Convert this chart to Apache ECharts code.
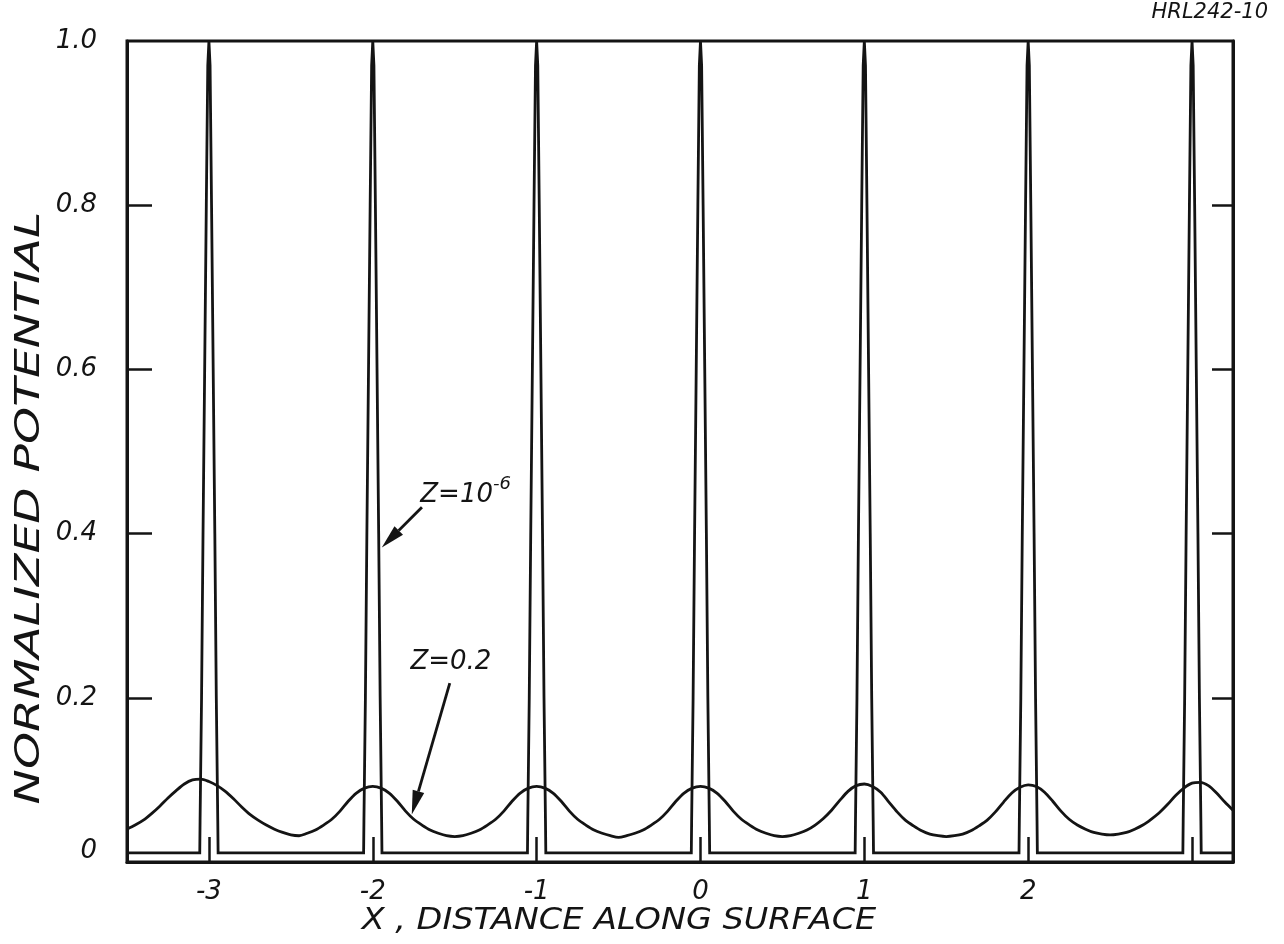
<!DOCTYPE html>
<html>
<head>
<meta charset="utf-8">
<script src="https://cdn.jsdelivr.net/npm/echarts@6/dist/echarts.min.js"></script>
<style>
  html, body { margin: 0; padding: 0; background: #ffffff; }
  #chart { width: 1284px; height: 944px; }
</style>
</head>
<body>
<div id="chart"></div>
<script>
// Normalized surface potential along a periodic electrode array, for two heights Z.

// Axis ticks and labels
const xTicks = [-3, -2, -1, 0, 1, 2, 3];
const xTickLabels = [-3, -2, -1, 0, 1, 2];
const yTicks = [0.2, 0.4, 0.6, 0.8];
const yTickLabels = [0, 0.2, 0.4, 0.6, 0.8, 1.0];
const xMin = -3.5;
const xMax = 3.25;

// Z = 1e-6: a sharp peak over every electrode, almost zero in between
const spikeCentres = [-3, -2, -1, 0, 1, 2, 3];
const spikeOffsets = [-0.056, -0.054, -0.045, -0.036, -0.026, -0.016, -0.007, 0, 0.007, 0.016, 0.026, 0.036, 0.045, 0.054, 0.056];
const spikeLevels  = [0.011, 0.05, 0.2, 0.4, 0.6, 0.8, 0.97, 1.0, 0.97, 0.8, 0.6, 0.4, 0.2, 0.05, 0.011];
const spikeBase = 0.011;

// Z = 0.2: smooth ripple
const rippleX = [
  -3.5, -3.45, -3.4, -3.35, -3.3, -3.25, -3.2, -3.15, -3.1, -3.05,
  -3.0, -2.95, -2.9, -2.85, -2.8, -2.75, -2.7, -2.65, -2.6, -2.55,
  -2.5, -2.45, -2.4, -2.35, -2.3, -2.25, -2.2, -2.15, -2.1, -2.05,
  -2.0, -1.95, -1.9, -1.85, -1.8, -1.75, -1.7, -1.65, -1.6, -1.55,
  -1.5, -1.45, -1.4, -1.35, -1.3, -1.25, -1.2, -1.15, -1.1, -1.05,
  -1.0, -0.95, -0.9, -0.85, -0.8, -0.75, -0.7, -0.65, -0.6, -0.55,
  -0.5, -0.45, -0.4, -0.35, -0.3, -0.25, -0.2, -0.15, -0.1, -0.05,
  0.0, 0.05, 0.1, 0.15, 0.2, 0.25, 0.3, 0.35, 0.4, 0.45,
  0.5, 0.55, 0.6, 0.65, 0.7, 0.75, 0.8, 0.85, 0.9, 0.95,
  1.0, 1.05, 1.1, 1.15, 1.2, 1.25, 1.3, 1.35, 1.4, 1.45,
  1.5, 1.55, 1.6, 1.65, 1.7, 1.75, 1.8, 1.85, 1.9, 1.95,
  2.0, 2.05, 2.1, 2.15, 2.2, 2.25, 2.3, 2.35, 2.4, 2.45,
  2.5, 2.55, 2.6, 2.65, 2.7, 2.75, 2.8, 2.85, 2.9, 2.95,
  3.0, 3.05, 3.1, 3.15, 3.2, 3.25
];
const rippleY = [
  0.040, 0.045, 0.051, 0.059, 0.068, 0.078, 0.087, 0.095, 0.100, 0.101,
  0.098, 0.093, 0.086, 0.077, 0.067, 0.058, 0.051, 0.045, 0.040, 0.036,
  0.033, 0.032, 0.035, 0.039, 0.045, 0.052, 0.062, 0.074, 0.084, 0.090,
  0.092, 0.090, 0.084, 0.074, 0.062, 0.052, 0.045, 0.039, 0.035, 0.032,
  0.031, 0.032, 0.035, 0.039, 0.045, 0.052, 0.062, 0.074, 0.084, 0.090,
  0.092, 0.090, 0.084, 0.074, 0.062, 0.052, 0.045, 0.039, 0.035, 0.032,
  0.030, 0.032, 0.035, 0.039, 0.045, 0.052, 0.062, 0.074, 0.084, 0.090,
  0.092, 0.090, 0.084, 0.074, 0.062, 0.052, 0.045, 0.039, 0.035, 0.032,
  0.031, 0.032, 0.035, 0.039, 0.045, 0.053, 0.063, 0.075, 0.086, 0.093,
  0.095, 0.092, 0.085, 0.073, 0.061, 0.051, 0.044, 0.038, 0.034, 0.032,
  0.031, 0.032, 0.034, 0.038, 0.044, 0.051, 0.061, 0.073, 0.084, 0.091,
  0.094, 0.092, 0.085, 0.074, 0.062, 0.052, 0.045, 0.040, 0.036, 0.034,
  0.033, 0.034, 0.036, 0.040, 0.045, 0.052, 0.060, 0.070, 0.081, 0.090,
  0.096, 0.097, 0.093, 0.084, 0.073, 0.063
];

// Curve labels (data coordinates of text anchor, arrow tail and arrow tip)
const notes = [
  { text: '{m|Z=10}{s|-6}', at: [-1.71, 0.447], tail: [-1.70, 0.432], tip: [-1.945, 0.383] },
  { text: '{m|Z=0.2}', at: [-1.77, 0.243], tail: [-1.53, 0.218], tip: [-1.762, 0.058] }
];

const INK = '#141414';
const FONT = 'DejaVu Sans';

const spikeData = [[xMin, spikeBase]];
spikeCentres.forEach(function (c) {
  spikeOffsets.forEach(function (o, i) { spikeData.push([c + o, spikeLevels[i]]); });
});
spikeData.push([xMax, spikeBase]);

const rippleData = rippleX.map(function (x, i) { return [x, rippleY[i]]; });

const chart = echarts.init(document.getElementById('chart'), null, { renderer: 'canvas' });

const labelStyle = { color: INK, fontFamily: FONT, fontStyle: 'italic', fontSize: 26 };

chart.setOption({
  backgroundColor: '#ffffff',
  animation: false,
  grid: {
    left: 127, right: 51, top: 41, bottom: 82,
    outerBoundsMode: 'none',
    show: true, borderColor: INK, borderWidth: 3, backgroundColor: 'transparent'
  },
  xAxis: {
    type: 'value', min: xMin, max: xMax,
    axisLine: { show: true, onZero: false, lineStyle: { color: INK, width: 3 } },
    splitLine: { show: false },
    axisTick: { show: true, inside: true, length: 25, customValues: xTicks, lineStyle: { color: INK, width: 2.5 } },
    axisLabel: Object.assign({ customValues: xTickLabels, margin: 17, formatter: function (v) { return String(v); } }, labelStyle)
  },
  yAxis: [
    {
      type: 'value', min: 0, max: 1, position: 'left',
      axisLine: { show: true, onZero: false, lineStyle: { color: INK, width: 3 } },
      splitLine: { show: false },
      axisTick: { show: true, inside: true, length: 25, customValues: yTicks, lineStyle: { color: INK, width: 2.5 } },
      axisLabel: Object.assign({
        customValues: yTickLabels, margin: 30,
        formatter: function (v) { return v === 0 ? '{z|0}' : v.toFixed(1); },
        rich: { z: { color: INK, fontFamily: FONT, fontStyle: 'italic', fontSize: 26, padding: [0, 0, 22, 0] } }
      }, labelStyle)
    },
    {
      type: 'value', min: 0, max: 1, position: 'right',
      axisLine: { show: true, onZero: false, lineStyle: { color: INK, width: 3 } },
      splitLine: { show: false },
      axisTick: { show: true, inside: true, length: 21, customValues: yTicks, lineStyle: { color: INK, width: 2.5 } },
      axisLabel: { show: false }
    }
  ],
  series: [
    {
      name: 'Z=1e-6', type: 'line', data: spikeData, yAxisIndex: 0,
      symbol: 'none', smooth: false,
      lineStyle: { color: INK, width: 2.8, join: 'miter' }
    },
    {
      name: 'Z=0.2', type: 'line', data: rippleData, yAxisIndex: 0,
      symbol: 'none', smooth: 0.3,
      lineStyle: { color: INK, width: 2.8 }
    }
  ]
});

function px(p) { return chart.convertToPixel({ gridIndex: 0 }, p); }

function arrow(tail, tip) {
  const a = px(tail), b = px(tip);
  const dx = b[0] - a[0], dy = b[1] - a[1];
  const len = Math.sqrt(dx * dx + dy * dy);
  const ux = dx / len, uy = dy / len;
  const headLen = 24, headHalf = 6;
  const bx = b[0] - ux * headLen, by = b[1] - uy * headLen;
  return [
    { type: 'line', shape: { x1: a[0], y1: a[1], x2: bx, y2: by }, style: { stroke: INK, lineWidth: 2.8 } },
    { type: 'polygon', shape: { points: [[b[0], b[1]], [bx - uy * headHalf, by + ux * headHalf], [bx + uy * headHalf, by - ux * headHalf]] },
      style: { fill: INK } }
  ];
}

const graphics = [];
notes.forEach(function (n) {
  const p = px(n.at);
  graphics.push({
    type: 'text', x: p[0], y: p[1],
    style: {
      text: n.text, align: 'left', verticalAlign: 'middle',
      rich: {
        m: { fill: INK, fontFamily: FONT, fontStyle: 'italic', fontSize: 26, lineHeight: 40 },
        s: { fill: INK, fontFamily: FONT, fontStyle: 'italic', fontSize: 18, verticalAlign: 'top', lineHeight: 40 }
      }
    }
  });
  arrow(n.tail, n.tip).forEach(function (g) { graphics.push(g); });
});

// Axis titles and drawing number
graphics.push({
  type: 'text', x: 30, y: 508, rotation: Math.PI / 2, scaleX: 1.43,
  style: { text: 'NORMALIZED POTENTIAL', fill: INK, fontFamily: FONT, fontStyle: 'italic', fontSize: 33, align: 'center', verticalAlign: 'middle' }
});
graphics.push({
  type: 'text', x: 619, y: 921, scaleX: 1.08,
  style: { text: 'X , DISTANCE ALONG SURFACE', fill: INK, fontFamily: FONT, fontStyle: 'italic', fontSize: 31, align: 'center', verticalAlign: 'middle' }
});
graphics.push({
  type: 'text', x: 1268, y: 13,
  style: { text: 'HRL242-10', fill: INK, fontFamily: FONT, fontStyle: 'italic', fontSize: 21, align: 'right', verticalAlign: 'middle' }
});

chart.setOption({ graphic: graphics });
</script>
</body>
</html>
